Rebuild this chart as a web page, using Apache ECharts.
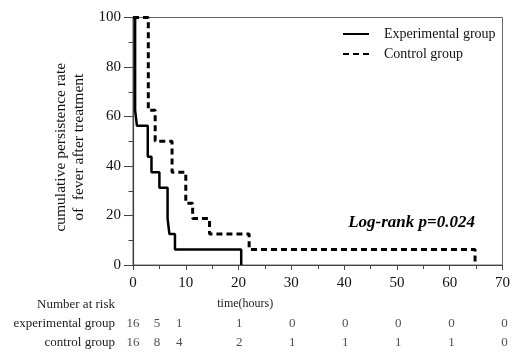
<!DOCTYPE html>
<html>
<head>
<meta charset="utf-8">
<script src="https://cdn.jsdelivr.net/npm/echarts@6/dist/echarts.min.js"></script>
<style>
  html, body { margin: 0; padding: 0; background: #fff; }
  #chart { width: 513px; height: 352px; }
</style>
</head>
<body>
<div id="chart"></div>
<script>
// Kaplan-Meier steps: [time of drop (hours), survival after drop (%)]
const experimentalSteps = [[0, 100], [0.4, 62.5], [0.75, 56.25], [2.8, 43.75], [3.5, 37.5],
  [5.0, 31.25], [6.55, 18.75], [6.9, 12.5], [7.95, 6.25], [20.5, 0]]
const controlSteps = [[0, 100], [2.9, 62.5], [4.2, 50], [7.4, 37.5], [10, 25],
  [11.3, 18.75], [14.5, 12.5], [22, 6.25], [64.8, 0]]

// number-at-risk table
const riskRows = ['Number at risk', 'experimental group', 'control group']
const riskTimes = [0, 4.5, 8.7, 20, 30, 40, 50, 60, 70]
const experimentalAtRisk = [16, 5, 1, 1, 0, 0, 0, 0, 0]
const controlAtRisk = [16, 8, 4, 2, 1, 1, 1, 1, 0]

const serif = '"Liberation Serif", "DejaVu Serif", serif'
const axisGray = '#444'

const chart = echarts.init(document.getElementById('chart'))

const riskData = []
riskTimes.forEach((t, i) => {
  riskData.push([t, riskRows[1], experimentalAtRisk[i]])
  riskData.push([t, riskRows[2], controlAtRisk[i]])
})

const option = {
  animation: false,
  backgroundColor: '#fff',
  grid: [
    { left: 133, right: 8.5, top: 17.5, bottom: 87, show: true, borderColor: '#666', borderWidth: 1 },
    { left: 133, right: 8.5, top: 295, height: 57 }
  ],
  legend: {
    orient: 'vertical',
    left: 342,
    top: 26,
    padding: 0,
    itemWidth: 26,
    itemHeight: 12,
    itemGap: 4,
    itemStyle: { opacity: 0 },
    textStyle: { fontFamily: serif, fontSize: 14, color: '#111', lineHeight: 16, padding: [0, 0, 0, 10] },
    data: ['Experimental group', 'Control group']
  },
  xAxis: [
    {
      type: 'value', gridIndex: 0, min: 0, max: 70, interval: 10,
      name: 'time(hours)', nameLocation: 'middle', nameGap: 33,
      nameTextStyle: { fontFamily: serif, fontSize: 12, color: '#222', padding: [0, 145, 0, 0] },
      axisLine: { lineStyle: { color: axisGray, width: 1.2 } },
      axisTick: { length: 5, lineStyle: { color: axisGray } },
      minorTick: { show: true, splitNumber: 2, length: 4, lineStyle: { color: axisGray } },
      axisLabel: { margin: 11, fontFamily: serif, fontSize: 15, color: '#111' },
      splitLine: { show: false }
    },
    { type: 'value', gridIndex: 1, min: 0, max: 70, show: false }
  ],
  yAxis: [
    {
      type: 'value', gridIndex: 0, min: 0, max: 100, interval: 20,
      name: 'cumulative persistence rate\nof  fever after treatment',
      nameLocation: 'middle', nameRotate: 90, nameGap: 41,
      nameTextStyle: { fontFamily: serif, fontSize: 15.5, color: '#111', lineHeight: 18, padding: [0, 12, 0, 0] },
      axisLine: { show: true, lineStyle: { color: axisGray, width: 1.2 } },
      axisTick: { show: true, length: 9, lineStyle: { color: axisGray } },
      minorTick: { show: true, splitNumber: 2, length: 4.5, lineStyle: { color: axisGray } },
      axisLabel: { margin: 12, fontFamily: serif, fontSize: 15, color: '#111' },
      splitLine: { show: false }
    },
    {
      type: 'category', gridIndex: 1, inverse: true, data: riskRows,
      axisLine: { show: false }, axisTick: { show: false }, splitLine: { show: false },
      axisLabel: { margin: 18, fontFamily: serif, fontSize: 13, color: '#222' }
    }
  ],
  series: [
    {
      name: 'Experimental group', type: 'line', step: 'end',
      xAxisIndex: 0, yAxisIndex: 0,
      symbol: 'none', data: experimentalSteps,
      lineStyle: { color: '#000', width: 2.5 }, itemStyle: { color: '#000' }, z: 3
    },
    {
      name: 'Control group', type: 'line', step: 'end',
      xAxisIndex: 0, yAxisIndex: 0,
      symbol: 'none', data: controlSteps,
      lineStyle: { color: '#000', width: 3, type: [6, 4] }, itemStyle: { color: '#000' }, z: 2
    },
    {
      name: 'at risk', type: 'scatter', xAxisIndex: 1, yAxisIndex: 1,
      symbolSize: 1, itemStyle: { color: 'rgba(0,0,0,0)' },
      data: riskData,
      label: {
        show: true, position: 'inside', formatter: p => String(p.value[2]),
        fontFamily: serif, fontSize: 13, color: '#222'
      },
      silent: true
    }
  ],
  graphic: [
    {
      type: 'text', right: 38, top: 214,
      style: {
        text: 'Log-rank p=0.024', fill: '#000',
        font: 'italic bold 17px "Liberation Serif", serif'
      }
    }
  ]
}

chart.setOption(option)
window.addEventListener('resize', () => chart.resize())
</script>
</body>
</html>
